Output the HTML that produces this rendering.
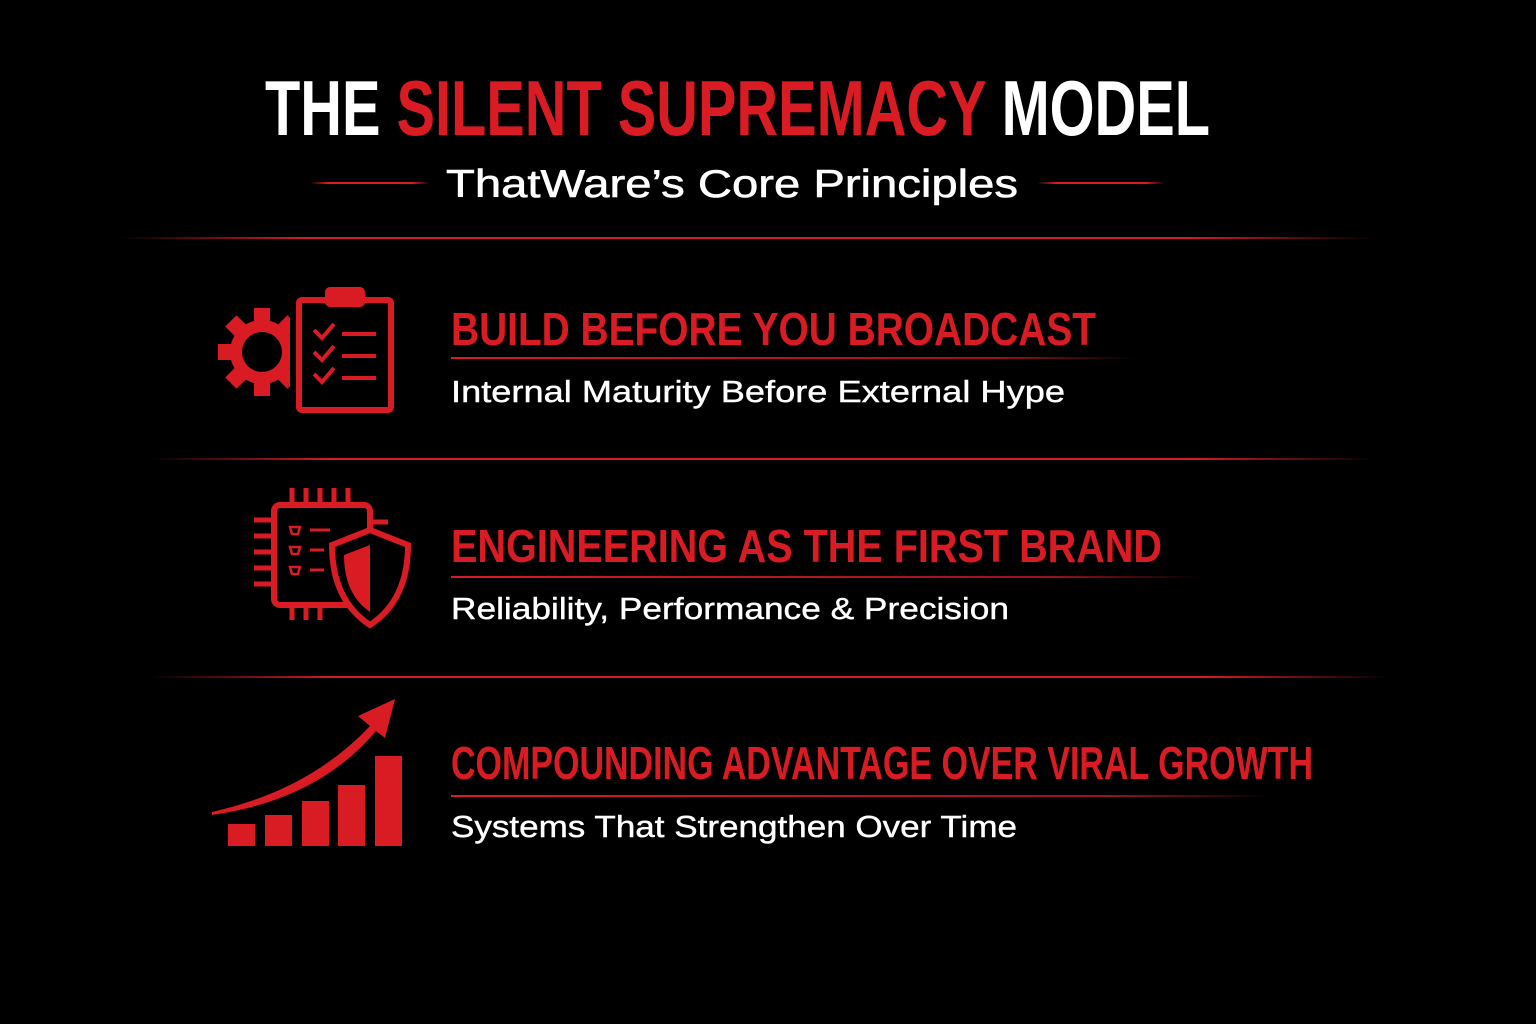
<!DOCTYPE html>
<html><head><meta charset="utf-8"><style>
html,body{margin:0;padding:0;background:#000;width:1536px;height:1024px;overflow:hidden}
</style></head><body>
<svg width="1536" height="1024" viewBox="0 0 1536 1024" xmlns="http://www.w3.org/2000/svg">
<defs>
<linearGradient id="lg" x1="0" x2="1" y1="0" y2="0">
<stop offset="0" stop-color="#d91c24" stop-opacity="0"/>
<stop offset="0.15" stop-color="#d91c24"/>
<stop offset="0.85" stop-color="#d91c24"/>
<stop offset="1" stop-color="#d91c24" stop-opacity="0"/>
</linearGradient>
<linearGradient id="lr" x1="0" x2="1" y1="0" y2="0">
<stop offset="0" stop-color="#d91c24"/>
<stop offset="0.8" stop-color="#d91c24" stop-opacity="0.7"/>
<stop offset="1" stop-color="#d91c24" stop-opacity="0"/>
</linearGradient>
</defs>
<rect width="1536" height="1024" fill="#000"/>
<g font-family="'Liberation Sans Narrow','Liberation Sans',sans-serif" font-weight="bold">
<text x="265" y="135" font-size="78" fill="#fff" textLength="945" lengthAdjust="spacingAndGlyphs">THE <tspan fill="#d91c24">SILENT SUPREMACY</tspan> MODEL</text>
</g>
<text x="446" y="197" font-family="'Liberation Sans',sans-serif" font-size="39" fill="#fff" stroke="#fff" stroke-width="0.6" textLength="572" lengthAdjust="spacingAndGlyphs">ThatWare’s Core Principles</text>
<rect x="310" y="182" width="120" height="2" fill="url(#lg)"/>
<rect x="1037" y="182" width="128" height="2" fill="url(#lg)"/>
<rect x="120" y="237" width="1255" height="2" fill="url(#lg)"/>
<rect x="150" y="458" width="1225" height="2" fill="url(#lg)"/>
<rect x="150" y="676" width="1240" height="2" fill="url(#lg)"/>

<g font-family="'Liberation Sans Narrow','Liberation Sans',sans-serif" font-weight="bold" fill="#d91c24" font-size="46">
<text x="451" y="345" textLength="645" lengthAdjust="spacingAndGlyphs">BUILD BEFORE YOU BROADCAST</text>
<text x="451" y="562" textLength="711" lengthAdjust="spacingAndGlyphs">ENGINEERING AS THE FIRST BRAND</text>
<text x="451" y="779" textLength="862" lengthAdjust="spacingAndGlyphs">COMPOUNDING ADVANTAGE OVER VIRAL GROWTH</text>
</g>
<rect x="451" y="357" width="684" height="2" fill="url(#lr)"/>
<rect x="451" y="576" width="750" height="2" fill="url(#lr)"/>
<rect x="451" y="795" width="820" height="2" fill="url(#lr)"/>
<g font-family="'Liberation Sans',sans-serif" fill="#fff" font-size="31" stroke="#fff" stroke-width="0.4">
<text x="451" y="402" textLength="614" lengthAdjust="spacingAndGlyphs">Internal Maturity Before External Hype</text>
<text x="451" y="619" textLength="558" lengthAdjust="spacingAndGlyphs">Reliability, Performance &amp; Precision</text>
<text x="451" y="837" textLength="566" lengthAdjust="spacingAndGlyphs">Systems That Strengthen Over Time</text>
</g>

<!-- icon 1 gear + clipboard -->
<g fill="#d91c24">
<g transform="translate(262,352)">
<circle r="32"/>
<rect x="-8" y="-44" width="16" height="88"/>
<rect x="-8" y="-44" width="16" height="88" transform="rotate(45)"/>
<rect x="-8" y="-44" width="16" height="88" transform="rotate(90)"/>
<rect x="-8" y="-44" width="16" height="88" transform="rotate(135)"/>
<circle r="20" fill="#000"/>
</g>
<rect x="290" y="292" width="30" height="130" fill="#000"/>
</g>
<g fill="none" stroke="#d91c24" stroke-width="6">
<rect x="299" y="300" width="92" height="110" rx="3"/>
<path d="M314 330l8 8 12-14M314 352l8 8 12-14M314 374l8 8 12-14" stroke-width="4"/>
<path d="M342 334h34M342 356h34M342 378h34" stroke-width="4"/>
</g>
<rect x="325" y="287" width="40" height="20" rx="5" fill="#d91c24"/>

<!-- icon 2 chip + shield -->
<g fill="none" stroke="#d91c24" stroke-width="6">
<rect x="274" y="505" width="96" height="100" rx="6"/>
<path d="M292 488v17M306 488v17M320 488v17M334 488v17M348 488v17M292 605v15M306 605v15M320 605v15M254 520h20M254 536h20M254 552h20M254 568h20M254 584h20M370 522h18" stroke-width="5"/>
<path d="M310 530h20M310 550h14M310 570h14" stroke-width="3"/>
<path d="M290 527h10l-2 7h-6zM290 547h10l-2 7h-6zM290 567h10l-2 7h-6z" stroke-width="2.5"/>
</g>
<path d="M370 530 L408 545 Q408 600 370 625 Q332 600 332 545 Z" fill="#000" stroke="#d91c24" stroke-width="6"/>
<path d="M370 545 L370 612 Q344 594 344 555 Z" fill="#d91c24"/>

<!-- icon 3 chart -->
<g fill="#d91c24">
<rect x="228" y="824" width="27" height="22"/>
<rect x="265" y="815" width="27" height="31"/>
<rect x="302" y="801" width="27" height="45"/>
<rect x="338" y="785" width="27" height="61"/>
<rect x="375" y="756" width="27" height="90"/>
<path d="M212 812 Q310 790 370 726 L358 716 L395 699 L385 738 L376 731 Q318 800 212 815 Z"/>
</g>
</svg>
</body></html>
